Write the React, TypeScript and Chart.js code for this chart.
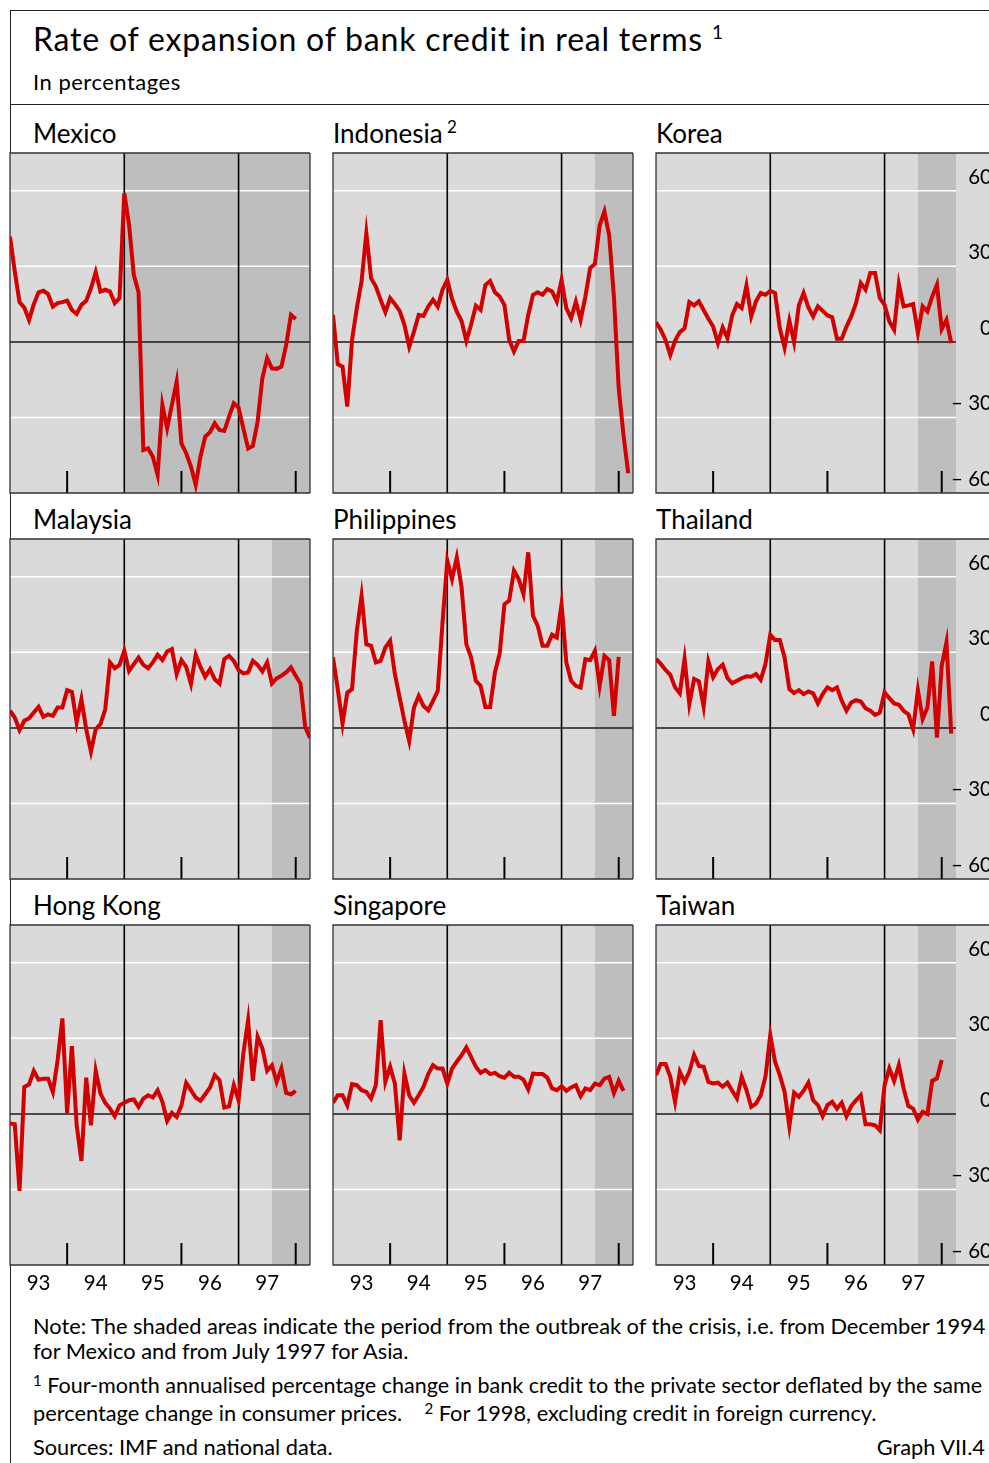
import React, { useEffect, useRef } from "react";
import { Chart, registerables } from "chart.js";

Chart.register(...registerables);

// months counted from Dec 1992 (0) ; year boundaries at 12, 24, 36, 48, 60
const X_MIN = 0;
const X_MAX = 63;
const Y_MIN = -60;
const Y_MAX = 75;

const yearLabels = ["93", "94", "95", "96", "97"];
const yearLabelPos = [6, 18, 30, 42, 54];
const yTickValues = [60, 30, 0, -30, -60];
const yTickLabels = ["60", "30", "0", "\u2013 30", "\u2013 60"];
const whiteGrid = [60, 30, -30];
const yearLines = [24, 48];
const yearTicks = [12, 36, 60];

const mexico = [41.8, 28, 15.8, 13.6, 8.7, 15, 19.7, 20.3, 19, 14, 15.4, 15.8, 16.4, 12.7, 11.1, 14.7, 16.3, 21.3, 27.7, 20, 20.7, 20, 15.4, 17.4, 59, 46.5, 26.6, 19.7, -42.9, -42.3, -45.6, -52.8, -25, -34.3, -25, -15.8, -40.3, -44.2, -49.5, -56.8, -45.6, -37.6, -35.9, -32.3, -35, -35.4, -29.7, -24.4, -26.1, -34.3, -42.3, -41.3, -31.7, -14.4, -6.5, -10.5, -10.7, -9.8, -1.2, 10.7, 9.1];
const indonesia = [10.7, -8.9, -9.8, -25.7, 0.8, 13.4, 24, 43.2, 25.3, 22, 16.7, 11.8, 17.4, 15, 12.3, 6.8, -1.9, 4.1, 10.7, 10.3, 14, 16.7, 14, 20.7, 24.6, 17.1, 12, 8.3, 0.4, 6.8, 14.4, 12.7, 22.6, 24.2, 19.7, 18, 14.7, 0.8, -3.8, 0.4, 0.4, 10.7, 18.7, 19.7, 18.7, 21, 20, 16, 24.6, 13.4, 9.4, 16, 8.7, 18, 29.3, 30.9, 46.2, 51.8, 42.3, 17.7, -18.4, -37, -52.2];
const korea = [7.8, 4.8, 0.8, -5.2, 0.4, 3.9, 5.4, 15.8, 14.5, 16.1, 12.7, 9.2, 6.1, -0.5, 5.7, 1.5, 10.5, 15, 13.4, 22.4, 10.1, 16.1, 19.4, 18.7, 20.3, 19.4, 5.4, -2.3, 8.4, -0.1, 14.5, 19.4, 13.7, 10.1, 14.1, 12.4, 10.5, 9.8, 1.2, 1.2, 6.1, 10.1, 15.4, 23.4, 20.7, 27.4, 27.4, 17.4, 14.7, 8.1, 4.8, 23, 14.1, 14.5, 15, 3.5, 14.1, 12.1, 18, 22.7, 5, 8.8, -0.5];
const malaysia = [6.8, 4.1, -0.9, 2.8, 3.8, 6.1, 8.3, 4.4, 5.4, 4.8, 8.1, 8.1, 15, 14.3, 2.1, 11.4, -0.5, -9.4, -0.5, 1.5, 7.4, 26, 23.7, 25, 30.6, 22.6, 25.3, 27.9, 25, 23.7, 26, 29, 26.9, 30.3, 31.3, 21.3, 26.9, 24.2, 17.4, 29, 24.2, 20.3, 23.3, 19.3, 17.6, 27.3, 28.6, 26.6, 22.9, 21.6, 22, 26.6, 25, 22.4, 26, 17.6, 19.7, 20.7, 22, 24, 20.7, 17.6, 0.4, -4];
const philippines = [28, 15.4, 1.7, 14, 15.4, 38.5, 52.5, 33.2, 32.6, 26, 26.6, 31.9, 34.6, 21.3, 12, 2.8, -5.2, 8.1, 12.7, 8.7, 7, 10.7, 14.7, 41.9, 66.4, 59.1, 67.7, 55.8, 33.2, 28, 18.7, 16.7, 8.3, 8.3, 22, 29.5, 49.1, 50.5, 62.4, 59.1, 53.1, 69.7, 44.5, 40.5, 32.6, 32.6, 37, 35.9, 49.1, 26, 18.7, 16.7, 16, 27.3, 26.9, 30.6, 16.7, 28.6, 26.9, 4.8, 28.2];
const thailand = [27.4, 25.4, 23, 21.1, 16.1, 13.7, 27.4, 9.4, 19.4, 18.5, 8.4, 26.4, 20.1, 23.4, 25.1, 19.8, 17.7, 18.7, 19.7, 20.5, 20.3, 21.4, 19.1, 25.4, 37, 34.9, 34.9, 28, 15.4, 13.8, 15, 13.4, 14.5, 13.7, 9.7, 13.4, 16.1, 15, 16.1, 10.8, 6.8, 10.1, 11, 10.5, 7.8, 6.8, 5.2, 6.1, 14.1, 11.8, 9.7, 9.2, 6.8, 5.4, -0.5, 15, 3.5, 8.1, 26.4, -3.9, 24.7, 34, -2.3];
const hongKong = [-3.8, -4.1, -30.6, 10.7, 11.7, 17.1, 13.6, 14, 14, 8.7, 21.3, 37.9, 0.4, 26.9, -4.5, -18.7, 14.4, -4.5, 17.1, 8.1, 4.4, 2.1, -0.9, 3.4, 4.4, 5.4, 5.7, 2.8, 6.1, 7.4, 6.5, 9.4, 4.8, -2.8, 0.4, -1.2, 3.4, 12.3, 9.4, 6.5, 5.2, 7.8, 10.5, 15.4, 13.4, 2.5, 3, 11.4, 5.4, 24, 37.2, 13.1, 30.6, 26, 17.1, 19.3, 12.7, 18, 8.3, 7.8, 9.1];
const singapore = [4.4, 7.4, 7.4, 3.4, 11.8, 11.4, 9.4, 8.7, 6.1, 11.4, 37.2, 12.7, 18.7, 12, -10.5, 16, 7.4, 4.4, 7.4, 10.7, 15.8, 19.3, 18, 18, 12, 18, 20.7, 23.3, 26.4, 22.6, 18.7, 16.3, 17.4, 15.8, 16.3, 15, 14.4, 16.3, 14.7, 14.7, 13.6, 9.7, 16, 15.8, 15.8, 14.4, 10.1, 9.4, 11, 9.1, 10.5, 11.4, 7, 10.1, 9.4, 12, 11.4, 14, 14.7, 8.3, 13.1, 9.1];
const taiwan = [15.4, 19.8, 19.8, 14.7, 4.8, 16.7, 12.7, 16.7, 23.4, 19, 18.7, 12.7, 12.1, 12.4, 10.8, 12.4, 9.2, 6.1, 14.7, 9.4, 2.8, 4.1, 7.4, 15, 31.3, 20.7, 15.4, 8.8, -4.9, 8.4, 6.8, 9.2, 12.4, 5.4, 3.5, -0.9, 3.5, 4.8, 2.1, 4.4, -0.9, 3.1, 5.4, 7.4, -4.1, -4.1, -4.5, -6.5, 11.4, 18.1, 13.1, 19.4, 10.1, 3.1, 2.1, -2.3, 0.8, -0.1, 13.1, 14.1, 21.4];

const MEXICO_SHADE = 24; // December 1994
const ASIA_SHADE = 55; // July 1997

const FONT = "Lato, 'Open Sans', sans-serif";
const LIGHT = "rgb(218,218,218)";
const DARK = "rgb(190,190,190)";
const RED = "#d20000";

const COL_X = [10, 333, 656];
const ROW_Y = [153, 539, 925];
const PW = 300;
const PH = 340;

type PanelDef = { name: string; sup?: string; values: number[]; shade: number; col: number; row: number };

const panels: PanelDef[] = [
  { name: "Mexico", values: mexico, shade: MEXICO_SHADE, col: 0, row: 0 },
  { name: "Indonesia", sup: "2", values: indonesia, shade: ASIA_SHADE, col: 1, row: 0 },
  { name: "Korea", values: korea, shade: ASIA_SHADE, col: 2, row: 0 },
  { name: "Malaysia", values: malaysia, shade: ASIA_SHADE, col: 0, row: 1 },
  { name: "Philippines", values: philippines, shade: ASIA_SHADE, col: 1, row: 1 },
  { name: "Thailand", values: thailand, shade: ASIA_SHADE, col: 2, row: 1 },
  { name: "Hong Kong", values: hongKong, shade: ASIA_SHADE, col: 0, row: 2 },
  { name: "Singapore", values: singapore, shade: ASIA_SHADE, col: 1, row: 2 },
  { name: "Taiwan", values: taiwan, shade: ASIA_SHADE, col: 2, row: 2 },
];

function decorPlugin(shade: number, showY: boolean, showX: boolean) {
  return {
    id: "panelDecor",
    beforeDatasetsDraw(chart: any) {
      const { ctx, chartArea: a, scales } = chart;
      const x = scales.x;
      const y = scales.y;
      const boxRight = showY ? chart.width : a.right;
      ctx.save();
      ctx.fillStyle = LIGHT;
      ctx.fillRect(a.left, a.top, boxRight - a.left, a.bottom - a.top);
      const xs = x.getPixelForValue(shade);
      ctx.fillStyle = DARK;
      ctx.fillRect(xs, a.top, a.right - xs, a.bottom - a.top);
      const hline = (py: number, color: string, w: number) => {
        ctx.strokeStyle = color;
        ctx.lineWidth = w;
        ctx.beginPath();
        ctx.moveTo(a.left, py);
        ctx.lineTo(a.right, py);
        ctx.stroke();
      };
      for (const v of whiteGrid) hline(y.getPixelForValue(v), "#ffffff", 1.5);
      hline(y.getPixelForValue(0), "#1a1a1a", 1.5);
      ctx.strokeStyle = "#000";
      ctx.lineWidth = 1.6;
      for (const m of yearLines) {
        const px = x.getPixelForValue(m);
        ctx.beginPath();
        ctx.moveTo(px, a.top);
        ctx.lineTo(px, a.bottom);
        ctx.stroke();
      }
      ctx.lineWidth = 2;
      for (const m of yearTicks) {
        const px = x.getPixelForValue(m);
        ctx.beginPath();
        ctx.moveTo(px, a.bottom - 22);
        ctx.lineTo(px, a.bottom);
        ctx.stroke();
      }
      ctx.strokeStyle = "#333";
      ctx.lineWidth = 1.3;
      ctx.beginPath();
      ctx.moveTo(boxRight, a.top);
      ctx.lineTo(a.left, a.top);
      ctx.lineTo(a.left, a.bottom);
      ctx.lineTo(boxRight, a.bottom);
      if (!showY) {
        ctx.moveTo(a.right, a.top);
        ctx.lineTo(a.right, a.bottom);
      }
      ctx.stroke();
      ctx.restore();
    },
    afterDraw(chart: any) {
      const { ctx, chartArea: a, scales } = chart;
      ctx.save();
      ctx.fillStyle = "#000";
      ctx.font = `20.5px ${FONT}`;
      if (showY) {
        ctx.textAlign = "right";
        ctx.textBaseline = "alphabetic";
        yTickValues.forEach((v, i) => {
          const py = scales.y.getPixelForValue(v);
          ctx.fillText(yTickLabels[i], a.right + 36, py - 7);
        });
      }
      if (showX) {
        ctx.textAlign = "center";
        ctx.textBaseline = "middle";
        yearLabelPos.forEach((m, i) => {
          ctx.fillText(yearLabels[i], scales.x.getPixelForValue(m), a.bottom + 18);
        });
      }
      ctx.restore();
    },
  };
}

function Panel({ def }: { def: PanelDef }) {
  const ref = useRef<HTMLCanvasElement>(null);
  const showY = def.col === 2;
  const showX = def.row === 2;
  const padL = 2;
  const padT = 2;
  const padR = showY ? 33 : 2;
  const padB = showX ? 34 : 2;
  const W = PW + padL + padR;
  const H = PH + padT + padB;
  useEffect(() => {
    if (!ref.current) return;
    const chart = new Chart(ref.current, {
      type: "line",
      data: {
        datasets: [
          {
            data: def.values.map((v, i) => ({ x: i, y: v })),
            borderColor: RED,
            borderWidth: 4,
            pointRadius: 0,
            tension: 0,
            borderJoinStyle: "miter",
            clip: 0,
          } as any,
        ],
      },
      options: {
        responsive: false,
        animation: false,
        events: [],
        layout: { padding: { left: padL, top: padT, right: padR, bottom: padB } },
        plugins: { legend: { display: false }, tooltip: { enabled: false } },
        scales: {
          x: { type: "linear", min: X_MIN, max: X_MAX, display: false },
          y: { type: "linear", min: Y_MIN, max: Y_MAX, display: false },
        },
      },
      plugins: [decorPlugin(def.shade, showY, showX) as any],
    });
    return () => chart.destroy();
  }, []);
  return (
    <canvas
      ref={ref}
      width={W}
      height={H}
      style={{ position: "absolute", left: COL_X[def.col] - padL, top: ROW_Y[def.row] - padT, width: W, height: H }}
    />
  );
}

const txt = (left: number, top: number, size: number, extra: any = {}): React.CSSProperties => ({
  position: "absolute",
  left,
  top,
  fontSize: size,
  lineHeight: 1,
  fontFamily: FONT,
  whiteSpace: "pre",
  color: "#000",
  ...extra,
});

const supStyle = (size: number, lift: number): React.CSSProperties => ({
  fontSize: size,
  position: "relative",
  top: -lift,
});

const NOTE = 21.8;

export default function App() {
  return (
    <div style={{ position: "absolute", left: 0, top: 0, width: 989, height: 1463, overflow: "hidden", background: "#fff" }}>
      {/* frame */}
      <div style={{ position: "absolute", left: 10, top: 10, width: 979, height: 1.3, background: "#222" }} />
      <div style={{ position: "absolute", left: 9.5, top: 10, width: 1.3, height: 1453, background: "#222" }} />
      <div style={{ position: "absolute", left: 10, top: 103.5, width: 979, height: 1.3, background: "#222" }} />

      <div style={txt(33, 23.2, 32, { letterSpacing: 0.8 })}>
        Rate of expansion of bank credit in real terms <span style={supStyle(19, 12)}>1</span>
      </div>
      <div style={txt(33, 70.6, 22, { letterSpacing: 0.5 })}>In percentages</div>

      {panels.map((p) => (
        <div key={p.name} style={txt(COL_X[p.col] === 10 ? 33 : COL_X[p.col], ROW_Y[p.row] - 33.2, 26)}>
          {p.name}
          {p.sup ? <span style={supStyle(17, 10)}>{" " + p.sup}</span> : null}
        </div>
      ))}

      {panels.map((p) => (
        <Panel key={"c" + p.name} def={p} />
      ))}

      <div style={txt(33, 1315, NOTE)}>
        Note: The shaded areas indicate the period from the outbreak of the crisis, i.e. from December 1994
      </div>
      <div style={txt(33, 1340, NOTE)}>for Mexico and from July 1997 for Asia.</div>
      <div style={txt(33, 1375, 21.55)}>
        <span style={supStyle(15, 7)}>1</span> Four-month annualised percentage change in bank credit to the private sector deflated by the same
      </div>
      <div style={txt(33, 1402, NOTE)}>
        {"percentage change in consumer prices.    "}
        <span style={supStyle(15, 7)}>2</span> For 1998, excluding credit in foreign currency.
      </div>
      <div style={txt(33, 1436, NOTE)}>Sources: IMF and national data.</div>
      <div style={txt(0, 1436, NOTE, { left: undefined, right: 4, textAlign: "right" })}>Graph VII.4</div>
    </div>
  );
}
